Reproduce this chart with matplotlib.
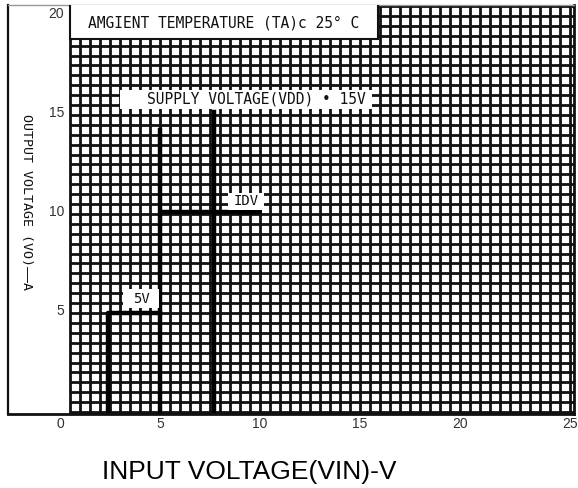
import numpy as np
import matplotlib
matplotlib.use("Agg")
import matplotlib.pyplot as plt
from matplotlib.patches import Rectangle

# ---- data ----
x_ticks = [0, 5, 10, 15, 20, 25]
y_ticks = [5, 10, 15, 20]
grid_step = 0.5

# transfer curves (input voltage -> output voltage)
vdd5_x = [2.4, 2.4, 5.0]
vdd5_y = [0.0, 5.0, 5.0]
vdd10_x = [5.0, 5.0]
vdd10_y = [0.0, 14.25]
vdd10_h_x = [5.0, 10.1]
vdd10_h_y = [10.1, 10.1]
vdd15_x = [7.7, 7.7]
vdd15_y = [0.0, 15.15]

title_text = "AMGIENT TEMPERATURE (TA)c 25° C"
supply_text = "SUPPLY VOLTAGE(VDD) • 15V"
label_10 = "IDV"
label_5 = "5V"
ylabel_text = "OUTPUT VOLTAGE (VO)——A"
xlabel_text = "INPUT VOLTAGE(VIN)-V"

W, H = 578, 488
fig = plt.figure(figsize=(W / 100, H / 100), dpi=100)
L, R, T, B = 8, 574, 5, 414
ax = fig.add_axes([L / W, 1 - B / H, (R - L) / W, (B - T) / H])
ax.set_xlim(-2.6, 25.7)
ax.set_ylim(-0.1, 20.55)
ax.set_xticks([])
ax.set_yticks([])

for s in ["left", "bottom", "right"]:
    ax.spines[s].set_color("#111111")
ax.spines["left"].set_linewidth(1.6)
ax.spines["bottom"].set_linewidth(2.0)
ax.spines["right"].set_linewidth(2.0)
ax.spines["top"].set_linewidth(1.0)
ax.spines["top"].set_color("#999999")

mono = ["DejaVu Sans Mono"]
gc = "#111111"
glw = 2.0
# grid
gx = np.arange(0.5, 25.5 + 1e-9, grid_step)
gy = np.arange(0.0, 20.5 + 1e-9, grid_step)
for v in gx:
    ax.plot([v, v], [-0.1, 20.55], color=gc, lw=glw, zorder=1, solid_capstyle="butt")
for v in gy:
    ax.plot([0.5, 25.7], [v, v], color=gc, lw=glw, zorder=1, solid_capstyle="butt")

# curves
clw = 3.2
ax.plot(vdd5_x, vdd5_y, color="black", lw=clw, zorder=2, solid_capstyle="projecting")
ax.plot(vdd10_x, vdd10_y, color="black", lw=clw, zorder=2, solid_capstyle="projecting")
ax.plot(vdd10_h_x, vdd10_h_y, color="black", lw=clw, zorder=2, solid_capstyle="butt")
ax.plot(vdd15_x, vdd15_y, color="black", lw=clw, zorder=2, solid_capstyle="projecting")

# header box
ax.add_patch(Rectangle((0.5, 18.84), 15.4, 2.0, facecolor="white", edgecolor="#111111",
                       lw=1.5, zorder=3, clip_on=True))
ax.text(8.2, 19.65, title_text, fontsize=10.5, family=mono, ha="center", va="center",
        color="#111111", zorder=4)

# supply label box
ax.add_patch(Rectangle((3.0, 15.3), 12.6, 0.96, facecolor="white", edgecolor="none", zorder=3))
ax.text(9.8, 15.78, supply_text, fontsize=10.5, family=mono, ha="center", va="center",
        color="#111111", zorder=4)

# 10V label
ax.add_patch(Rectangle((8.4, 10.2), 1.8, 0.86, facecolor="white", edgecolor="none", zorder=3))
ax.text(9.3, 10.63, label_10, fontsize=10, family=mono, ha="center", va="center",
        color="#111111", zorder=4)

# 5V label
ax.add_patch(Rectangle((3.15, 5.25), 1.8, 0.96, facecolor="white", edgecolor="none", zorder=3))
ax.text(4.05, 5.73, label_5, fontsize=10, family=mono, ha="center", va="center",
        color="#111111", zorder=4)

# tick labels
for v in x_ticks:
    ha = "center"
    xpos = v
    if v == x_ticks[-1]:
        ha = "left"
        xpos = v + 0.1
    ax.text(xpos, -0.6, str(v), fontsize=10, family=["Liberation Sans"], ha=ha, va="center",
            color="#333333", clip_on=False)
for v in y_ticks:
    ax.text(0.2, v + 0.1, str(v), fontsize=10, family=["Liberation Sans"], ha="right", va="center",
            color="#333333")

# y label
ax.text(-1.7, 10.6, ylabel_text, fontsize=9.5, family=mono, rotation=-90, ha="center",
        va="center", color="#111111")

# x label
fig.text(249 / W, 1 - 472 / H, xlabel_text, fontsize=19, family=["Liberation Sans"],
         ha="center", va="center", color="black")

fig.savefig("out.png", dpi=100)
